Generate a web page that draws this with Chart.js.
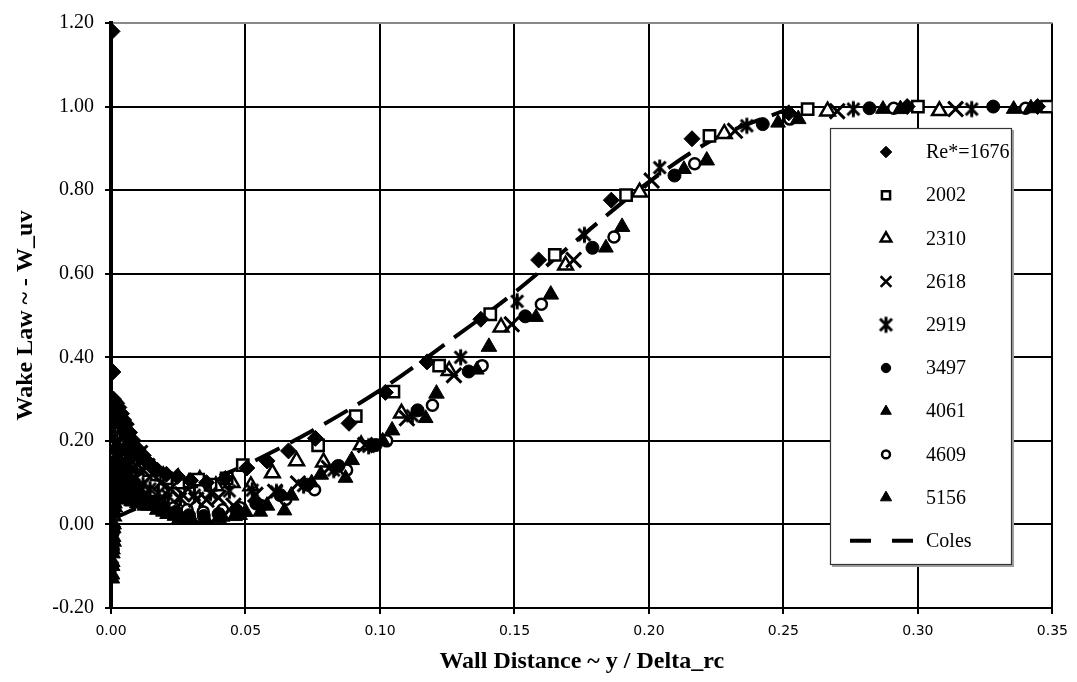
<!DOCTYPE html>
<html><head><meta charset="utf-8">
<script src="https://cdn.jsdelivr.net/npm/chart.js@4.4.1/dist/chart.umd.min.js"></script>
<style>html,body{margin:0;padding:0;background:#fff;}#c{display:block;}</style>
</head><body>
<canvas id="c" width="1077" height="682" style="width:1077px;height:682px"></canvas>
<script>
// ---------- DATA ----------
const seriesLabels = ['Re*=1676','2002','2310','2618','2919','3497','4061','4609','5156'];
const colesLabel = 'Coles';
const xTicks = [0, 0.05, 0.10, 0.15, 0.20, 0.25, 0.30, 0.35];
const yTicks = [-0.20, 0.00, 0.20, 0.40, 0.60, 0.80, 1.00, 1.20];

const re1676 = [[0.0004,1.18],[0.0007,0.365],[0.0009,0.30],[0.0011,0.26],[0.0013,0.295],[0.0015,0.27],[0.0017,0.285],[0.0019,0.25],[0.0021,0.29],[0.0024,0.27],[0.0026,0.25],[0.0029,0.28],[0.0032,0.26],[0.0035,0.24],[0.0039,0.265],[0.0043,0.235],[0.0047,0.25],[0.0052,0.22],[0.0057,0.24],[0.0063,0.21],[0.0069,0.22],[0.0076,0.19],[0.0083,0.20],[0.0091,0.175],[0.0100,0.18],[0.0110,0.16],[0.0120,0.165],[0.0132,0.15],[0.0144,0.145],[0.0172,0.13],[0.0206,0.12],[0.0247,0.115],[0.0296,0.105],[0.0355,0.10],[0.0425,0.11],[0.0505,0.135],[0.0580,0.152],[0.0660,0.176],[0.0760,0.206],[0.0885,0.242],[0.1020,0.316],[0.1175,0.389],[0.1375,0.491],[0.1590,0.633],[0.1860,0.776],[0.2160,0.923],[0.2520,0.985],[0.2960,1.0],[0.3445,1.0]];
const re2002 = [[0.0005,0.03],[0.0007,0.10],[0.0009,0.17],[0.0011,0.22],[0.0013,0.20],[0.0015,0.25],[0.0017,0.23],[0.0019,0.26],[0.0022,0.22],[0.0024,0.245],[0.0027,0.21],[0.0030,0.235],[0.0034,0.20],[0.0037,0.225],[0.0041,0.19],[0.0045,0.21],[0.0050,0.18],[0.0055,0.20],[0.0061,0.17],[0.0067,0.185],[0.0074,0.16],[0.0081,0.17],[0.0089,0.15],[0.0098,0.16],[0.0108,0.14],[0.0118,0.145],[0.0142,0.13],[0.0171,0.12],[0.0205,0.11],[0.0250,0.10],[0.0324,0.107],[0.0370,0.095],[0.0430,0.11],[0.0490,0.142],[0.0770,0.189],[0.0910,0.259],[0.1050,0.318],[0.1220,0.38],[0.1410,0.503],[0.1650,0.645],[0.1915,0.788],[0.2225,0.93],[0.2590,0.994],[0.3000,1.0],[0.3480,1.0]];
const re2310 = [[0.0006,-0.04],[0.0008,0.02],[0.0010,0.08],[0.0012,0.14],[0.0014,0.12],[0.0016,0.19],[0.0018,0.16],[0.0020,0.215],[0.0023,0.18],[0.0026,0.21],[0.0029,0.17],[0.0032,0.20],[0.0036,0.16],[0.0040,0.19],[0.0045,0.155],[0.0050,0.18],[0.0056,0.15],[0.0062,0.17],[0.0069,0.145],[0.0076,0.16],[0.0084,0.14],[0.0093,0.15],[0.0103,0.135],[0.0114,0.14],[0.0127,0.13],[0.0143,0.135],[0.0164,0.128],[0.0194,0.116],[0.0250,0.111],[0.0290,0.10],[0.0330,0.107],[0.0390,0.092],[0.0450,0.10],[0.0520,0.092],[0.0600,0.123],[0.0690,0.152],[0.0790,0.149],[0.0930,0.19],[0.1080,0.266],[0.1257,0.368],[0.1450,0.472],[0.1690,0.62],[0.1965,0.795],[0.2280,0.935],[0.2664,0.989],[0.3080,0.99]];
const re2618 = [[0.0006,0.01],[0.0008,0.06],[0.0010,0.11],[0.0012,0.15],[0.0014,0.13],[0.0017,0.19],[0.0019,0.16],[0.0022,0.20],[0.0025,0.17],[0.0028,0.195],[0.0032,0.16],[0.0036,0.185],[0.0041,0.15],[0.0046,0.18],[0.0052,0.145],[0.0058,0.175],[0.0065,0.14],[0.0073,0.17],[0.0082,0.135],[0.0095,0.165],[0.0108,0.171],[0.0120,0.13],[0.0135,0.14],[0.0155,0.12],[0.0185,0.10],[0.0220,0.085],[0.0265,0.072],[0.0317,0.059],[0.0355,0.059],[0.0400,0.064],[0.0455,0.045],[0.0537,0.071],[0.0610,0.078],[0.0695,0.098],[0.0810,0.135],[0.0945,0.19],[0.1100,0.254],[0.1275,0.357],[0.1490,0.479],[0.1720,0.633],[0.2010,0.823],[0.2320,0.942],[0.2700,0.989],[0.3140,0.994]];
const re2919 = [[0.0005,-0.08],[0.0007,-0.03],[0.0009,0.03],[0.0011,0.08],[0.0013,0.12],[0.0015,0.09],[0.0017,0.15],[0.0019,0.12],[0.0022,0.17],[0.0025,0.13],[0.0028,0.16],[0.0032,0.12],[0.0036,0.15],[0.0041,0.11],[0.0046,0.14],[0.0052,0.105],[0.0058,0.13],[0.0065,0.10],[0.0073,0.12],[0.0082,0.095],[0.0092,0.11],[0.0104,0.09],[0.0119,0.095],[0.0145,0.085],[0.0176,0.075],[0.0213,0.068],[0.0258,0.062],[0.0310,0.07],[0.0370,0.075],[0.0440,0.08],[0.0525,0.082],[0.0615,0.078],[0.0716,0.093],[0.0828,0.13],[0.0958,0.187],[0.1120,0.26],[0.1300,0.40],[0.1510,0.534],[0.1760,0.693],[0.2040,0.854],[0.2364,0.954],[0.2760,0.994],[0.3200,0.994]];
const re3497 = [[0.0005,-0.10],[0.0007,-0.06],[0.0009,-0.01],[0.0011,0.04],[0.0013,0.08],[0.0015,0.06],[0.0017,0.11],[0.0019,0.08],[0.0022,0.13],[0.0025,0.10],[0.0028,0.125],[0.0032,0.09],[0.0036,0.115],[0.0041,0.08],[0.0046,0.105],[0.0052,0.075],[0.0058,0.095],[0.0065,0.07],[0.0073,0.085],[0.0082,0.065],[0.0092,0.075],[0.0104,0.06],[0.0118,0.065],[0.0133,0.055],[0.0160,0.05],[0.0197,0.04],[0.0240,0.03],[0.0290,0.022],[0.0345,0.02],[0.0400,0.025],[0.0465,0.035],[0.0540,0.05],[0.0630,0.07],[0.0730,0.095],[0.0846,0.14],[0.0984,0.19],[0.1140,0.273],[0.1330,0.366],[0.1540,0.498],[0.1790,0.662],[0.2095,0.835],[0.2423,0.958],[0.2820,0.996],[0.3280,1.0]];
const re4061 = [[0.0005,-0.13],[0.0006,-0.10],[0.0007,-0.07],[0.0009,-0.04],[0.0010,-0.01],[0.0012,0.03],[0.0014,0.06],[0.0016,0.04],[0.0018,0.09],[0.0021,0.07],[0.0024,0.10],[0.0027,0.075],[0.0031,0.095],[0.0035,0.07],[0.0040,0.09],[0.0045,0.065],[0.0051,0.085],[0.0058,0.06],[0.0066,0.08],[0.0075,0.055],[0.0085,0.07],[0.0096,0.05],[0.0110,0.065],[0.0128,0.055],[0.0157,0.045],[0.0193,0.03],[0.0236,0.02],[0.0287,0.015],[0.0350,0.015],[0.0415,0.018],[0.0480,0.022],[0.0555,0.03],[0.0645,0.033],[0.0746,0.10],[0.0872,0.111],[0.1010,0.20],[0.1170,0.254],[0.1360,0.37],[0.1580,0.496],[0.1840,0.662],[0.2130,0.85],[0.2480,0.961],[0.2870,0.994],[0.3356,0.994]];
const re4609 = [[0.0006,-0.06],[0.0008,-0.02],[0.0010,0.04],[0.0012,0.08],[0.0014,0.06],[0.0016,0.12],[0.0018,0.09],[0.0021,0.14],[0.0024,0.10],[0.0027,0.135],[0.0031,0.095],[0.0035,0.125],[0.0040,0.09],[0.0045,0.115],[0.0051,0.085],[0.0058,0.105],[0.0066,0.08],[0.0075,0.095],[0.0085,0.075],[0.0096,0.085],[0.0108,0.07],[0.0127,0.065],[0.0156,0.055],[0.0191,0.045],[0.0233,0.04],[0.0283,0.035],[0.0343,0.03],[0.0415,0.035],[0.0480,0.04],[0.0560,0.045],[0.0650,0.06],[0.0757,0.083],[0.0876,0.13],[0.1025,0.20],[0.1195,0.285],[0.1380,0.38],[0.1600,0.527],[0.1870,0.688],[0.2170,0.863],[0.2524,0.97],[0.2910,0.996],[0.3400,0.996]];
const re5156 = [[0.0004,-0.12],[0.0005,-0.09],[0.0006,-0.06],[0.0008,-0.03],[0.0010,0.0],[0.0011,0.03],[0.0013,0.05],[0.0015,0.07],[0.0017,0.09],[0.0019,0.06],[0.0022,0.11],[0.0025,0.08],[0.0028,0.11],[0.0032,0.075],[0.0036,0.10],[0.0041,0.07],[0.0046,0.09],[0.0052,0.065],[0.0058,0.08],[0.0065,0.06],[0.0073,0.07],[0.0082,0.055],[0.0092,0.062],[0.0103,0.05],[0.0113,0.055],[0.0126,0.045],[0.0140,0.045],[0.0172,0.035],[0.0210,0.025],[0.0255,0.015],[0.0300,0.012],[0.0350,0.012],[0.0400,0.015],[0.0460,0.02],[0.0500,0.03],[0.0580,0.045],[0.0670,0.069],[0.0780,0.119],[0.0895,0.154],[0.1045,0.225],[0.1210,0.313],[0.1405,0.425],[0.1635,0.55],[0.1900,0.712],[0.2215,0.871],[0.2555,0.97],[0.2935,0.994],[0.3420,0.996]];

const colesX = [0, 0.01, 0.03, 0.05, 0.075, 0.10, 0.125, 0.15, 0.175, 0.20, 0.225, 0.25];
const colesY = [0.012, 0.04, 0.09, 0.142, 0.225, 0.321, 0.435, 0.555, 0.69, 0.82, 0.925, 0.99];

const seriesData = [re1676, re2002, re2310, re2618, re2919, re3497, re4061, re4609, re5156];

// ---------- STYLES ----------
const starImg = document.createElement('canvas');
starImg.width = 19; starImg.height = 19;
(function(){ const s = starImg.getContext('2d'); s.strokeStyle = '#000'; s.lineWidth = 3;
  s.beginPath(); s.moveTo(3.5,3.5); s.lineTo(15.5,15.5); s.moveTo(15.5,3.5); s.lineTo(3.5,15.5); s.moveTo(9.5,1.5); s.lineTo(9.5,17.5); s.stroke(); })();

const markerStyles = [
  {pointStyle:'rectRot', radius:8, bg:'#000', bw:1, order:0},
  {pointStyle:'rect', radius:8, bg:'#fff', bw:2.5, order:1},
  {pointStyle:'triangle', radius:8.5, bg:'#fff', bw:2.5, order:1},
  {pointStyle:'crossRot', radius:10.5, bg:'#000', bw:3, order:0},
  {pointStyle:starImg, radius:9.5, bg:'#000', bw:1, order:0},
  {pointStyle:'circle', radius:6.5, bg:'#000', bw:1, order:0},
  {pointStyle:'triangle', radius:8.5, bg:'#000', bw:1, order:0},
  {pointStyle:'circle', radius:5.5, bg:'#fff', bw:2.5, order:1},
  {pointStyle:'triangle', radius:9, bg:'#000', bw:1, order:0}
];

const datasets = seriesData.map((arr, i) => ({
  type: 'scatter',
  label: seriesLabels[i],
  data: arr.map(p => ({x: p[0], y: p[1]})),
  pointStyle: markerStyles[i].pointStyle,
  pointRadius: markerStyles[i].radius,
  backgroundColor: markerStyles[i].bg,
  borderColor: '#000',
  borderWidth: markerStyles[i].bw,
  order: markerStyles[i].order,
  showLine: false
}));
datasets.push({
  type: 'line',
  label: colesLabel,
  data: colesX.map((x, i) => ({x, y: colesY[i]})),
  borderColor: '#000',
  borderWidth: 4,
  borderDash: [27, 12],
  pointRadius: 0,
  fill: false,
  order: 2,
  cubicInterpolationMode: 'monotone'
});

// ---------- LEGEND (inside plot) ----------
const boxLegend = {
  id: 'boxLegend',
  afterDraw(chart) {
    const ctx = chart.ctx;
    const L = 830, T = 128, R = 1012, B = 565;
    ctx.save();
    ctx.fillStyle = '#a0a0a0';
    ctx.fillRect(L + 2, T + 2, R - L, B - T);
    ctx.fillStyle = '#fff';
    ctx.fillRect(L, T, R - L, B - T);
    ctx.strokeStyle = '#333'; ctx.lineWidth = 1.2;
    ctx.strokeRect(L + 0.5, T + 0.5, R - L - 1, B - T - 1);
    const ds = chart.data.datasets;
    ctx.font = '20px "Liberation Serif", "Times New Roman", serif';
    ctx.textBaseline = 'middle';
    ctx.textAlign = 'left';
    ds.forEach((d, i) => {
      const y = 152 + i * 43.2;
      if (d.type === 'line') {
        ctx.strokeStyle = '#000'; ctx.lineWidth = 4; ctx.setLineDash([21, 21]);
        ctx.beginPath(); ctx.moveTo(850, y); ctx.lineTo(913, y); ctx.stroke();
        ctx.setLineDash([]);
      } else {
        ctx.fillStyle = d.backgroundColor; ctx.strokeStyle = d.borderColor; ctx.lineWidth = Math.min(d.borderWidth, 2.5);
        Chart.helpers.drawPoint(ctx, {pointStyle: d.pointStyle, radius: d.pointRadius * 0.72, rotation: 0, borderWidth: d.borderWidth}, 886, y);
      }
      ctx.fillStyle = '#000';
      ctx.fillText(d.label, 926, y + 1);
    });
    ctx.restore();
  }
};

// ---------- CHART ----------
new Chart(document.getElementById('c'), {
  type: 'scatter',
  data: { datasets },
  options: {
    responsive: false,
    animation: false,
    devicePixelRatio: 1,
    layout: { padding: { top: 16, right: 24, left: 0, bottom: 0 } },
    plugins: { legend: { display: false }, tooltip: { enabled: false } },
    scales: {
      x: {
        type: 'linear', min: 0, max: 0.35,
        afterBuildTicks: s => { s.ticks = xTicks.map(v => ({value: v})); },
        afterFit: s => { s.height = 74; },
        ticks: { color: '#000', padding: 9, font: { family: '"DejaVu Sans", sans-serif', size: 14 }, callback: v => Number(v).toFixed(2), maxRotation: 0 },
        grid: { color: '#000', lineWidth: 2, tickLength: 6, tickColor: '#000', tickWidth: 2 },
        border: { display: true, color: '#000', width: 2 },
        title: { display: true, text: 'Wall Distance ~ y / Delta_rc', color: '#000', padding: { top: 0, bottom: 6 },
          font: { family: '"Liberation Serif", "Times New Roman", serif', size: 24, weight: 'bold' } }
      },
      y: {
        type: 'linear', min: -0.2, max: 1.2,
        afterBuildTicks: s => { s.ticks = yTicks.map(v => ({value: v})); },
        afterFit: s => { s.width = 111; },
        ticks: { color: '#000', padding: 11, font: { family: '"Liberation Serif", "Times New Roman", serif', size: 20 }, callback: v => Number(v).toFixed(2) },
        grid: { color: c => (c.tick && Math.abs(c.tick.value - 1.2) < 1e-9) ? '#888' : '#000', lineWidth: 2, tickLength: 6, tickColor: '#000', tickWidth: 2 },
        border: { display: true, color: '#000', width: 4 },
        title: { display: true, text: 'Wake Law ~ - W_uv', color: '#000', padding: { top: 11, bottom: 0 },
          font: { family: '"Liberation Serif", "Times New Roman", serif', size: 24, weight: 'bold' } }
      }
    }
  },
  plugins: [boxLegend]
});
</script>
</body></html>
